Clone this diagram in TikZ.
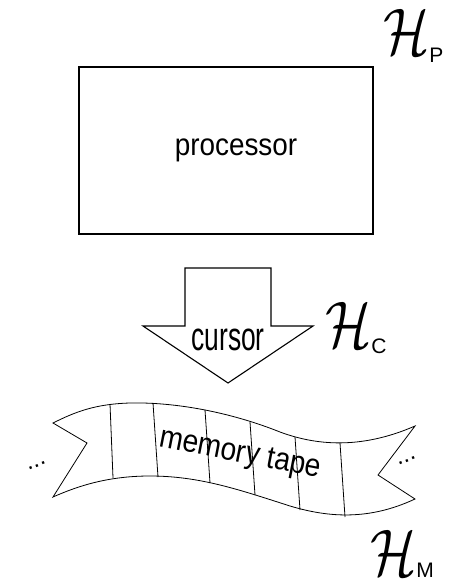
\documentclass[tikz,border=0pt]{standalone}
\usepackage{fontspec}
\setmainfont{Liberation Sans}
\begin{document}
\begin{tikzpicture}[x=1pt,y=-1pt,
  outline/.style={draw=black,line width=1.1pt},
  thin/.style={draw=black,line width=0.8pt},
  hilbert/.style={inner sep=0pt,anchor=base west},
  ellipsis/.style={font=\fontsize{24}{24}\selectfont,rotate=22,inner sep=0pt}]
\useasboundingbox (0,0) rectangle (450,585);

% processor box
\node[outline,minimum width=294pt,minimum height=167pt,inner sep=0pt] (proc) at (226,150.5) {};
\node[font=\fontsize{31}{31}\selectfont] (proclabel) at (236,150) {\scalebox{0.9}[1]{processor}};

% cursor arrow
\coordinate (sl) at (185,326);
\coordinate (tl) at (185,268);
\coordinate (tr) at (271,268);
\coordinate (sr) at (271,326);
\coordinate (hr) at (313,326);
\coordinate (tip) at (228,383);
\coordinate (hl) at (143,326);
\draw[outline,line join=miter] (tl) -- (tr) -- (sr) -- (hr) -- (tip) -- (hl) -- (sl) -- cycle;
\node[font=\fontsize{40}{40}\selectfont] (cursor) at (228,340) {\scalebox{0.66}[1]{cursor}};

% memory tape ribbon
\draw[thin,line join=miter]
  (53,423) .. controls (75,412) and (95,404) .. (130,403)
           .. controls (175,402) and (230,412) .. (280,432)
           .. controls (315,445) and (360,450) .. (415,426)
  -- (378,475) -- (415,499)
           .. controls (370,520) and (330,518) .. (290,506)
           .. controls (240,490) and (200,476) .. (150,476)
           .. controls (110,476) and (80,485) .. (53,497)
  -- (87,443) -- cycle;
\foreach \a/\b/\c/\d in {110/404/113/478, 153/403/158/477, 205/410/210/483,
                         250/422/255/495, 295/437/300/510, 340/443/345/517}
  \draw[thin] (\a,\b) -- (\c,\d);
\node[font=\fontsize{32}{32}\selectfont,rotate=-11] (tape) at (240,455) {\scalebox{0.88}[1]{memory tape}};
\node[ellipsis] (dotsl) at (37,466) {...};
\node[ellipsis] (dotsr) at (407,461) {...};

% Hilbert space labels
\node[hilbert] (hp) at (383,55) {\scalebox{5.4}[6.6]{$\mathcal{H}$}\raisebox{-8pt}{\fontsize{21}{21}\selectfont P}};
\node[hilbert] (hc) at (325,347) {\scalebox{5.4}[6.6]{$\mathcal{H}$}\raisebox{-6pt}{\fontsize{21}{21}\selectfont C}};
\node[hilbert] (hm) at (370,575) {\scalebox{5.4}[6.6]{$\mathcal{H}$}\raisebox{-2pt}{\fontsize{21}{21}\selectfont M}};
\end{tikzpicture}
\end{document}
